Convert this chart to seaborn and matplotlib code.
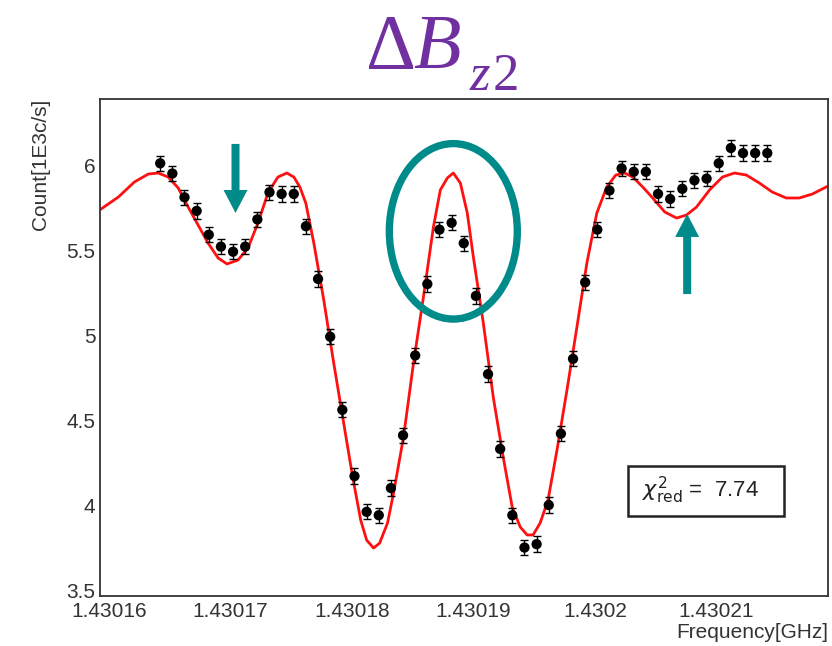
import matplotlib
matplotlib.use("Agg")
import matplotlib.pyplot as plt
import seaborn as sns
from matplotlib.patches import Ellipse, Rectangle, FancyArrow
from matplotlib.ticker import MultipleLocator

# Scan points: frequency [GHz] and count rate [1E3 c/s]
freq_ghz = [
    1.4301642, 1.4301652, 1.4301662, 1.4301672, 1.4301682, 1.4301692, 1.4301702,
    1.4301712, 1.4301722, 1.4301732, 1.4301742, 1.4301752, 1.4301762, 1.4301772,
    1.4301782, 1.4301792, 1.4301802, 1.4301812, 1.4301822, 1.4301832, 1.4301842,
    1.4301852, 1.4301862, 1.4301872, 1.4301882, 1.4301892, 1.4301902, 1.4301912,
    1.4301922, 1.4301932, 1.4301942, 1.4301952, 1.4301962, 1.4301972, 1.4301982,
    1.4301992, 1.4302002, 1.4302012, 1.4302022, 1.4302032, 1.4302042, 1.4302052,
    1.4302062, 1.4302072, 1.4302082, 1.4302092, 1.4302102, 1.4302112, 1.4302122,
    1.4302132, 1.4302142,
]
counts = [
    6.01, 5.95, 5.81, 5.73, 5.59, 5.52, 5.49, 5.52, 5.68, 5.84,
    5.83, 5.83, 5.64, 5.33, 4.99, 4.56, 4.17, 3.96, 3.94, 4.10,
    4.41, 4.88, 5.30, 5.62, 5.66, 5.54, 5.23, 4.77, 4.33, 3.94,
    3.75, 3.77, 4.00, 4.42, 4.86, 5.31, 5.62, 5.85, 5.98, 5.96,
    5.96, 5.83, 5.80, 5.86, 5.91, 5.92, 6.01, 6.10, 6.07, 6.07, 6.07,
]
count_err = [0.045] * len(counts)

# Fitted line shape, sampled as a polyline (offset in kHz from 1.43016 GHz)
fit_base_ghz = 1.43016
fit_khz = [
    -0.8, 0.76, 2.07, 3.22, 4.04, 4.86, 5.68, 6.50, 7.32, 8.14, 8.97, 9.70,
    10.61, 11.43, 12.25, 13.07, 13.89, 14.63, 15.21, 15.70, 16.19, 16.85,
    17.67, 18.49, 19.31, 20.05, 20.71, 21.20, 21.77, 22.27, 22.92, 23.42,
    24.24, 25.06, 25.88, 26.70, 27.27, 27.85, 28.34, 28.92, 29.49, 29.99,
    30.81, 31.63, 32.45, 33.19, 33.85, 34.42, 34.91, 35.49, 36.14, 36.88,
    37.70, 38.52, 39.34, 40.16, 40.98, 41.72, 42.46, 43.12, 43.94, 44.76,
    45.75, 46.73, 47.55, 48.37, 49.44, 50.50, 51.49, 52.47, 53.55, 54.61,
    55.76, 56.83, 57.90, 59.2,
]
fit_count = [
    5.735, 5.812, 5.900, 5.947, 5.953, 5.929, 5.865, 5.753, 5.647, 5.541,
    5.453, 5.418, 5.441, 5.512, 5.659, 5.835, 5.929, 5.953, 5.929, 5.871,
    5.776, 5.541, 5.206, 4.835, 4.482, 4.165, 3.912, 3.794, 3.747, 3.776,
    3.894, 4.071, 4.400, 4.835, 5.224, 5.635, 5.853, 5.924, 5.953, 5.894,
    5.718, 5.459, 5.071, 4.635, 4.282, 3.988, 3.871, 3.824, 3.824, 3.894,
    4.029, 4.324, 4.676, 5.047, 5.424, 5.718, 5.871, 5.941, 5.953, 5.929,
    5.871, 5.806, 5.724, 5.688, 5.706, 5.753, 5.853, 5.929, 5.953, 5.941,
    5.894, 5.841, 5.806, 5.806, 5.829, 5.876,
]
fit_freq = [fit_base_ghz + k * 1e-6 for k in fit_khz]

x_ticks = [1.43016, 1.43017, 1.43018, 1.43019, 1.43020, 1.43021]
x_tick_labels = ["1.43016", "1.43017", "1.43018", "1.43019", "1.4302", "1.43021"]
y_ticks = [3.5, 4.0, 4.5, 5.0, 5.5, 6.0]
y_tick_labels = ["3.5", "4", "4.5", "5", "5.5", "6"]

chi2_red = 7.74

# Highlight annotations (data coordinates)
teal = "#008B8B"
peak_ring = dict(center=(1.43018834, 5.610), width=1.054e-5, height=1.032)
arrow_down = dict(x=1.4301704, y_from=6.124, y_to=5.718)
arrow_up = dict(x=1.4302076, y_from=5.241, y_to=5.712)

sns.set_style("white")
plt.rcParams["font.family"] = ["Liberation Sans", "DejaVu Sans"]

fig = plt.figure(figsize=(8.32, 6.46), dpi=100)
ax = fig.add_axes([0.1196, 0.0774, 0.8756, 0.7698])

sns.lineplot(x=fit_freq, y=fit_count, sort=False, estimator=None,
             color="#ff1010", linewidth=2.0, ax=ax, zorder=2)
ax.errorbar(freq_ghz, counts, yerr=count_err, fmt="none", ecolor="black",
            elinewidth=1.0, capsize=2.6, capthick=1.0, zorder=3)
sns.scatterplot(x=freq_ghz, y=counts, color="black", s=55, edgecolor="none",
                ax=ax, zorder=4)

ax.set_xlim(1.4301592, 1.4302192)
ax.set_ylim(3.465, 6.39)
ax.set_xticks(x_ticks, x_tick_labels)
ax.set_yticks(y_ticks, y_tick_labels)
ax.xaxis.set_minor_locator(MultipleLocator(2e-6))
ax.yaxis.set_minor_locator(MultipleLocator(0.1))
ax.tick_params(which="both", direction="in", top=False, right=False,
               colors="#333333", labelsize=15, width=1.2)
ax.tick_params(which="major", length=13)
ax.tick_params(which="minor", length=6.5)
ax.tick_params(axis="x", pad=4)
ax.tick_params(axis="y", pad=3)
for sp in ax.spines.values():
    sp.set_color("#333333")
    sp.set_linewidth(1.3)

ax.set_xlabel("Frequency[GHz]", loc="right", fontsize=15, color="#333333")
ax.xaxis.set_label_coords(1.0, -0.054)
ax.set_ylabel("Count[1E3c/s]", loc="top", fontsize=15, color="#333333")
ax.yaxis.set_label_coords(-0.068, 1.0)

# Highlighted peak and arrows
ax.add_patch(Ellipse(peak_ring["center"], peak_ring["width"], peak_ring["height"],
                     fill=False, edgecolor=teal, linewidth=5.3, zorder=5))
for arr in (arrow_down, arrow_up):
    ax.add_patch(FancyArrow(arr["x"], arr["y_from"], 0, arr["y_to"] - arr["y_from"],
                            width=0.66e-6, head_width=1.97e-6, head_length=0.135,
                            length_includes_head=True, color=teal, linewidth=0,
                            zorder=5))

# Goodness-of-fit box
ax.add_patch(Rectangle((0.7255, 0.1609), 0.2141, 0.1005, transform=ax.transAxes,
                       facecolor="white", edgecolor="#222222", linewidth=1.8,
                       zorder=6))
ax.text(0.744, 0.199, f"$\\chi^{{2}}_{{\\mathrm{{red}}}}$ =  {chi2_red:.2f}",
        transform=ax.transAxes, fontsize=16, va="baseline", ha="left",
        color="#222222", zorder=7, math_fontfamily="dejavusans")

# Title: Delta B with subscript z2, typeset piece by piece in a serif face
purple = "#7030A0"
serif = ["Liberation Serif", "DejaVu Serif"]
fig.text(0.4399, 0.8943, "\u0394", fontsize=56, color=purple, family=serif,
         ha="left", va="baseline")
fig.text(0.4970, 0.8943, "B", fontsize=56, color=purple, family=serif,
         style="italic", ha="left", va="baseline")
fig.text(0.5640, 0.8607, "z", fontsize=38, color=purple, family=serif,
         style="italic", ha="left", va="baseline")
fig.text(0.5925, 0.8607, "2", fontsize=38, color=purple, family=serif,
         ha="left", va="baseline")

fig.savefig("out.png", dpi=100)
